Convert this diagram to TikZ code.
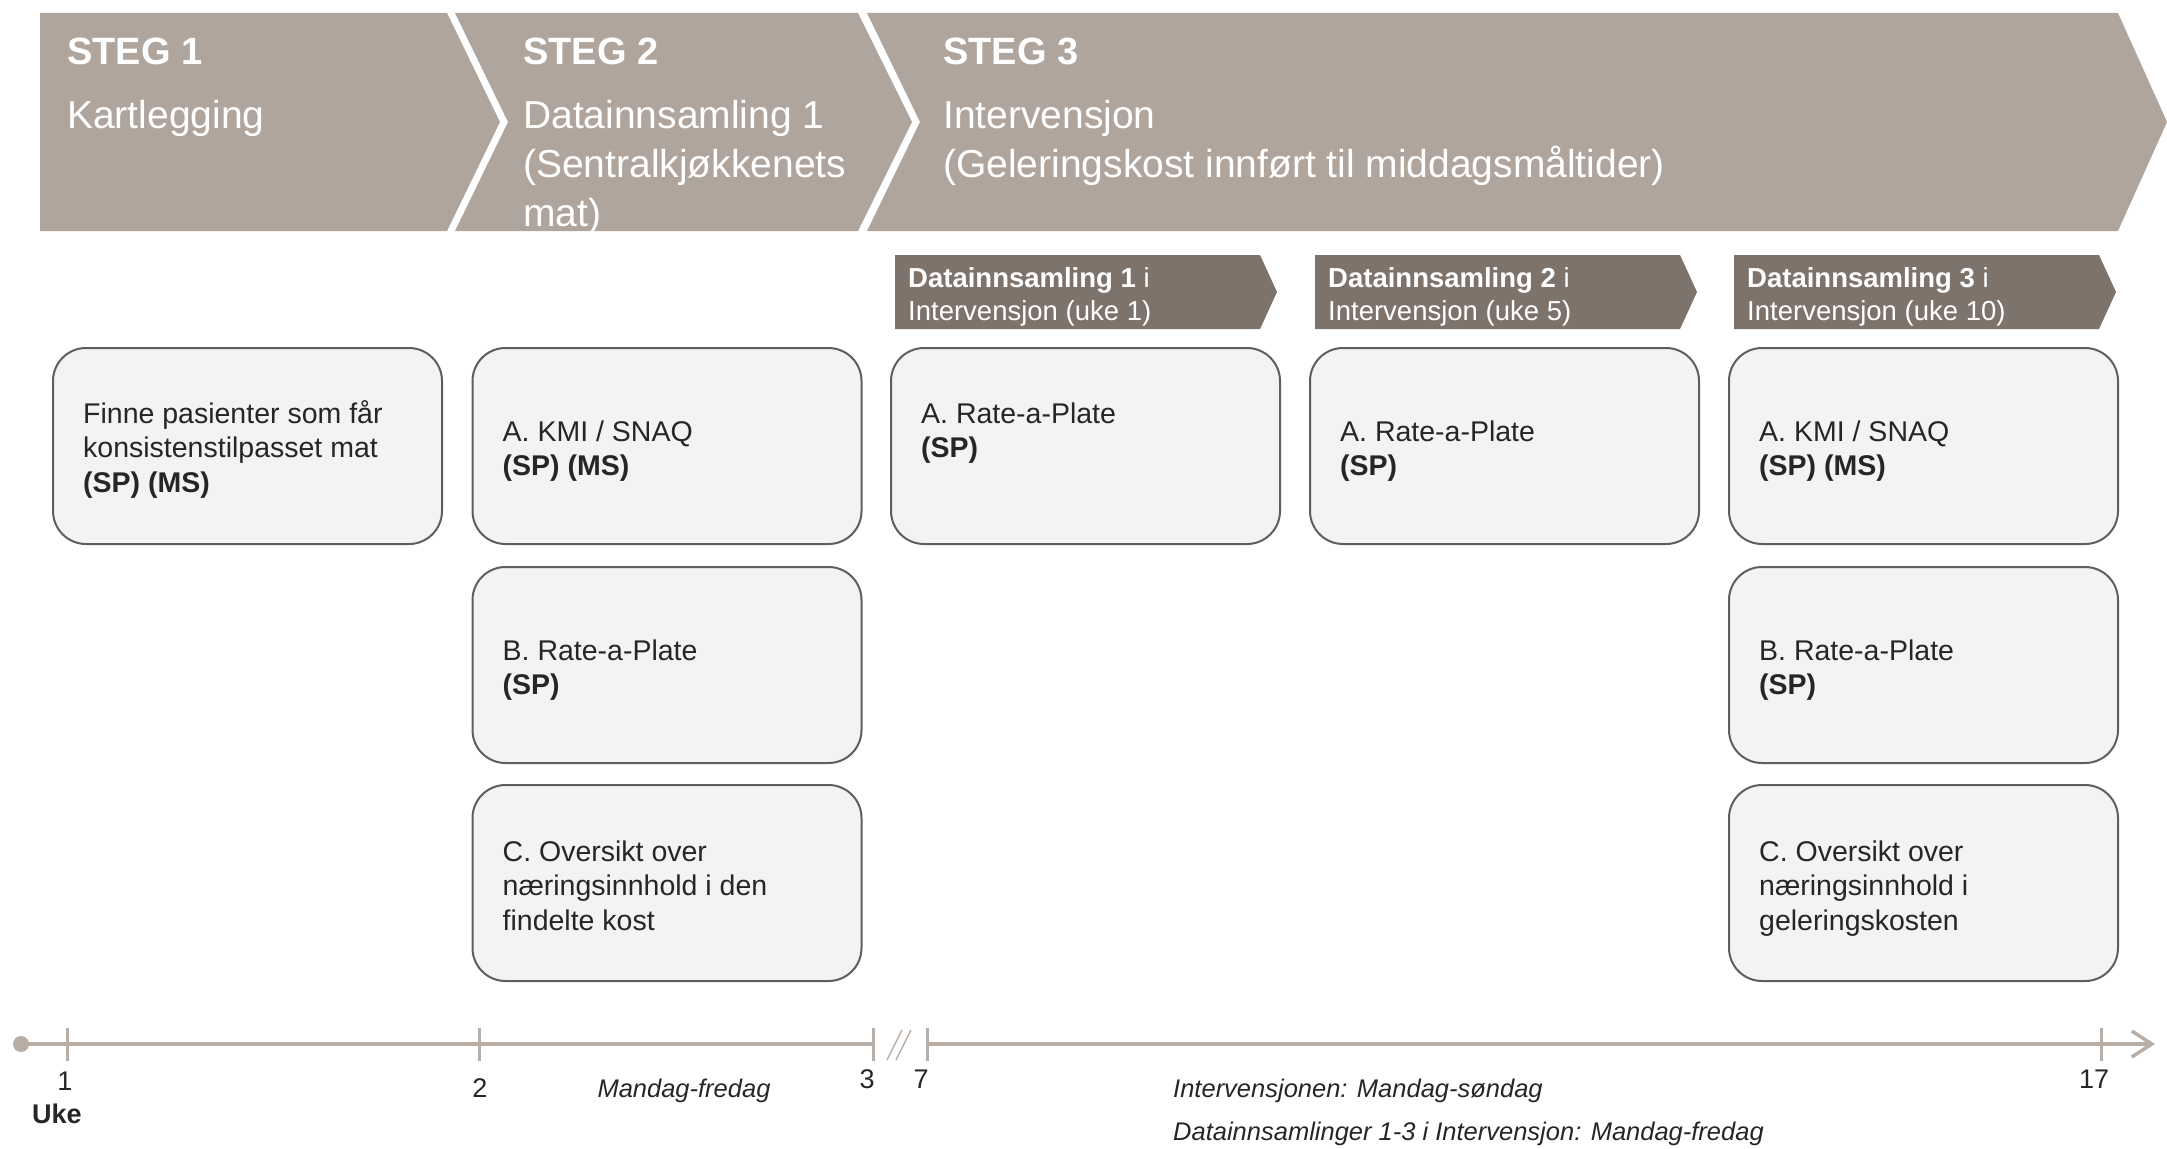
\documentclass[tikz,border=0pt]{standalone}
\usepackage{fontspec}
\setmainfont{Liberation Sans}
\usetikzlibrary{arrows.meta,calc}

\definecolor{bandgray}{HTML}{B0A59C}
\definecolor{tabgray}{HTML}{7E736B}
\definecolor{boxfill}{HTML}{F3F3F3}
\definecolor{boxline}{HTML}{5E5E5E}
\definecolor{inktext}{HTML}{262626}
\definecolor{axisgray}{HTML}{B8AEA6}

% left-aligned block of lines whose reference point is the first baseline
\newcommand{\linesblock}[1]{\begin{tabular}[t]{@{}l@{}}#1\end{tabular}}

\tikzset{
  band/.style={fill=bandgray},
  tab/.style={fill=tabgray},
  card/.style={draw=boxline, line width=2pt, fill=boxfill, rounded corners=33pt,
    minimum width=389pt, minimum height=196pt, inner sep=0pt},
  cardtext/.style={anchor=base west, inner sep=0pt, text=inktext,
    font=\fontsize{28.5}{34.5}\selectfont},
  headtitle/.style={anchor=base west, inner sep=0pt, text=white,
    font=\bfseries\fontsize{38}{49}\selectfont},
  headtext/.style={anchor=base west, inner sep=0pt, text=white,
    font=\fontsize{39}{49}\selectfont},
  tabtext/.style={anchor=base west, inner sep=0pt, text=white,
    font=\fontsize{27.5}{33}\selectfont},
  axis/.style={draw=axisgray, line width=3.5pt},
  tickmark/.style={draw=axisgray, line width=3pt},
  ticklabel/.style={anchor=base, inner sep=0pt, text=inktext,
    font=\fontsize{27}{30}\selectfont},
  note/.style={anchor=base west, inner sep=0pt, text=inktext,
    font=\itshape\fontsize{25.5}{30}\selectfont},
}

\begin{document}
\begin{tikzpicture}[x=1pt, y=-1pt]
\useasboundingbox (0,0) rectangle (2167,1148);

% ---- phase band -------------------------------------------------------
\fill[band] (40,13) -- (447,13) -- (500,122) -- (447,231) -- (40,231) -- cycle;
\fill[band] (455,13) -- (858,13) -- (912,122) -- (858,231) -- (455,231) -- (508,122) -- cycle;
\fill[band] (867,13) -- (2118,13) -- (2167,122) -- (2118,231) -- (867,231) -- (920,122) -- cycle;

\node[headtitle] (s1) at (67,65) {STEG 1};
\node[headtext] (s1t) at (67,128) {Kartlegging};
\node[headtitle] (s2) at (523,65) {STEG 2};
\node[headtext] (s2t) at (523,128) {\linesblock{Datainnsamling 1\\(Sentralkjøkkenets\\mat)}};
\node[headtitle] (s3) at (943,65) {STEG 3};
\node[headtext] (s3t) at (943,128) {\linesblock{Intervensjon\\(Geleringskost innført til middagsmåltider)}};

% ---- data collection tabs ---------------------------------------------
\foreach \x/\n/\w in {895/1/1, 1315/2/5, 1734/3/10}{
  \fill[tab] (\x,255) -- (\x+365,255) -- (\x+382,292) -- (\x+365,329) -- (\x,329) -- cycle;
  \node[tabtext] (tab\n) at (\x+13,287)
    {\linesblock{\textbf{Datainnsamling \n} i\\Intervensjon (uke \w)}};
}

% ---- activity cards ---------------------------------------------------
\node[card] (c1) at (247.5,446) {};
\node[card] (c2a) at (667,446) {};
\node[card] (c2b) at (667,665) {};
\node[card] (c2c) at (667,883) {};
\node[card] (c3a) at (1085.5,446) {};
\node[card] (c4a) at (1504.5,446) {};
\node[card] (c5a) at (1923.5,446) {};
\node[card] (c5b) at (1923.5,665) {};
\node[card] (c5c) at (1923.5,883) {};

\node[cardtext] (c1t) at ($(c1.west)+(31,-23)$)
  {\linesblock{Finne pasienter som får\\konsistenstilpasset mat\\\textbf{(SP) (MS)}}};
\node[cardtext] (c2at) at ($(c2a.west)+(31,-5)$)
  {\linesblock{A. KMI / SNAQ\\\textbf{(SP) (MS)}}};
\node[cardtext] (c2bt) at ($(c2b.west)+(31,-5)$)
  {\linesblock{B. Rate-a-Plate\\\textbf{(SP)}}};
\node[cardtext] (c2ct) at ($(c2c.west)+(31,-22)$)
  {\linesblock{C. Oversikt over\\næringsinnhold i den\\findelte kost}};
\node[cardtext] (c3at) at ($(c3a.west)+(31,-23)$)
  {\linesblock{A. Rate-a-Plate\\\textbf{(SP)}}};
\node[cardtext] (c4at) at ($(c4a.west)+(31,-5)$)
  {\linesblock{A. Rate-a-Plate\\\textbf{(SP)}}};
\node[cardtext] (c5at) at ($(c5a.west)+(31,-5)$)
  {\linesblock{A. KMI / SNAQ\\\textbf{(SP) (MS)}}};
\node[cardtext] (c5bt) at ($(c5b.west)+(31,-5)$)
  {\linesblock{B. Rate-a-Plate\\\textbf{(SP)}}};
\node[cardtext] (c5ct) at ($(c5c.west)+(31,-22)$)
  {\linesblock{C. Oversikt over\\næringsinnhold i\\geleringskosten}};

% ---- week axis --------------------------------------------------------
\coordinate (origin) at (21,1044);
\coordinate (w1) at (67,1044);
\coordinate (w2) at (479,1044);
\coordinate (w3) at (873,1044);
\coordinate (w7) at (927,1044);
\coordinate (w17) at (2101,1044);
\coordinate (axisend) at (2155,1044);

\fill[axisgray] (origin) circle (8pt);
\draw[axis] (origin) -- (w3);
\draw[axis, -{Straight Barb[length=20pt, width=26pt]}] (w7) -- (axisend);
\foreach \w in {w1,w2,w3,w7,w17}
  \draw[tickmark] ($(\w)+(0,-16)$) -- ($(\w)+(0,17)$);
\draw[axisgray, line width=1.5pt] (887,1060) -- (902,1030);
\draw[axisgray, line width=1.5pt] (896,1060) -- (911,1030);

\node[ticklabel] (l1) at (65,1090) {1};
\node[anchor=base west, inner sep=0pt, text=inktext, font=\bfseries\fontsize{27}{30}\selectfont] (uke) at (32,1123) {Uke};
\node[ticklabel] (l2) at (480,1097) {2};
\node[ticklabel] (l3) at (867,1088) {3};
\node[ticklabel] (l7) at (921,1088) {7};
\node[ticklabel] (l17) at (2094,1088) {17};

\node[note, anchor=base] (n1) at (684,1097) {Mandag-fredag};
\node[note] (n2) at (1173,1097) {Intervensjonen: Mandag-søndag};
\node[note] (n3) at (1173,1140) {Datainnsamlinger 1-3 i Intervensjon: Mandag-fredag};
\end{tikzpicture}
\end{document}
